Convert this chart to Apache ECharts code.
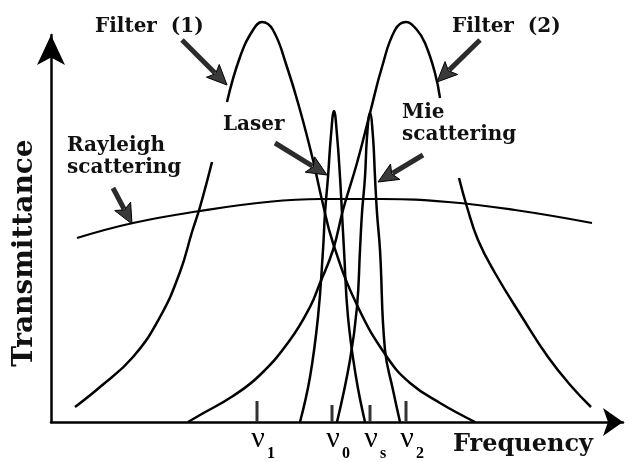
<!DOCTYPE html>
<html>
<head>
<meta charset="utf-8">
<script src="https://cdn.jsdelivr.net/npm/echarts@6/dist/echarts.min.js"></script>
<style>
html,body{margin:0;padding:0;background:#fff;}
#chart{width:635px;height:462px;}
</style>
</head>
<body>
<div id="chart"></div>
<script>
// Curves: [frequency, transmittance]
const filter1Upper = [[227,320],[240,365],[253,392],[262,400],[273,392],[287,355],[300,312],[313,262],[322,222],[333,179],[357,117],[387,65],[410,39],[440,19],[475,0]];
const filter1Lower = [[75,15],[100,35],[133,65],[160,105],[180,150],[192,190],[200,215],[212,260]];
const filter2Upper = [[188,0],[200,7],[233,26],[260,47],[290,82],[310,115],[320,139],[333,172],[343,212],[357,259],[370,309],[382,355],[395,392],[406,400],[417,392],[425,379],[435,349],[440,324]];
const filter2Lower = [[459,244],[467,215],[478,182],[495,149],[522,105],[548,65],[572,35],[591,15]];
const laser = [[300,0],[310,45],[318,105],[323,172],[325,209],[328,245],[331,287],[334,311],[337,287],[340,245],[342,209],[344,172],[348,105],[356,45],[365,0]];
const mie = [[337,0],[350,62],[357,115],[360,172],[362,209],[365,245],[367,285],[370,309],[373,285],[375,245],[377,209],[380,172],[385,72],[393,32],[400,0]];
const rayleigh = [[77,184],[133,199],[200,211],[267,220],[320,223],[382,223],[448,220],[515,212],[592,199]];

// Frequency markers
const tickFreqs = [257, 332, 370, 406];
const tickHeights = [21, 17, 17, 21];
const tickSubs = ['1', '0', 's', '2'];

// Annotation arrows: tail [x,y] -> tip [x,y]
const arrowTails = [[182,382],[275,279],[113,234],[480,382],[423,267]];
const arrowTips  = [[227,337],[327,247],[132,198],[437,340],[378,240]];

const chart = echarts.init(document.getElementById('chart'), null, {renderer: 'canvas'});

function curve(name, data, width) {
  return {
    name: name, type: 'line', data: data, showSymbol: false, symbol: 'none',
    smooth: 0.45, clip: false, silent: true,
    lineStyle: {color: '#000', width: width || 2.5}, z: 3
  };
}

const tickData = tickFreqs.map((f, i) => [f, tickHeights[i], i]);
const arrowData = arrowTails.map((t, i) => [t[0], t[1], arrowTips[i][0], arrowTips[i][1]]);

const option = {
  animation: false,
  backgroundColor: '#fff',
  grid: {left: 51, right: 12, top: 35, bottom: 40},
  xAxis: {
    type: 'value', min: 51, max: 623,
    axisLine: {show: true, onZero: false, symbol: ['none', 'arrow'], symbolSize: [21, 20], lineStyle: {color: '#000', width: 2.5}},
    axisTick: {show: false}, axisLabel: {show: false}, splitLine: {show: false}
  },
  yAxis: {
    type: 'value', min: 0, max: 387,
    axisLine: {show: true, onZero: false, symbol: ['none', 'arrow'], symbolSize: [21, 30], lineStyle: {color: '#000', width: 2.5}},
    axisTick: {show: false}, axisLabel: {show: false}, splitLine: {show: false}
  },
  series: [
    curve('Filter (1)', filter1Upper),
    curve('Filter (1) tail', filter1Lower),
    curve('Filter (2)', filter2Upper),
    curve('Filter (2) tail', filter2Lower),
    curve('Laser', laser),
    curve('Mie scattering', mie),
    curve('Rayleigh scattering', rayleigh, 2.2),
    {
      type: 'custom', name: 'ticks', data: tickData, silent: true, z: 4,
      renderItem: function (params, api) {
        const f = api.value(0), h = api.value(1), idx = api.value(2);
        const p0 = api.coord([f, 0]);
        const p1 = api.coord([f, h]);
        return {
          type: 'group',
          children: [
            {type: 'rect', shape: {x: p0[0] - 1.5, y: p1[1], width: 3, height: p0[1] - p1[1]}, style: {fill: '#333'}},
            {type: 'text', style: {text: 'ν', x: p0[0] + 1, y: p0[1] + 17, font: 'normal 30px "Liberation Serif"', align: 'center', verticalAlign: 'middle', fill: '#000'}},
            {type: 'text', style: {text: tickSubs[idx], x: p0[0] + 10, y: p0[1] + 32, font: 'bold 16px "Liberation Serif"', align: 'left', verticalAlign: 'middle', fill: '#000'}}
          ]
        };
      }
    },
    {
      type: 'custom', name: 'arrows', data: arrowData, silent: true, z: 5,
      renderItem: function (params, api) {
        const a = api.coord([api.value(0), api.value(1)]);
        const b = api.coord([api.value(2), api.value(3)]);
        const dx = b[0] - a[0], dy = b[1] - a[1];
        const len = Math.sqrt(dx * dx + dy * dy);
        const ux = dx / len, uy = dy / len;
        const nx = -uy, ny = ux;
        const L = 20, W = 9;
        const bx = b[0] - ux * L, by = b[1] - uy * L;
        return {
          type: 'group',
          children: [
            {type: 'line', shape: {x1: a[0], y1: a[1], x2: bx + ux * 3, y2: by + uy * 3}, style: {stroke: '#2b2b2b', lineWidth: 5}},
            {type: 'polygon', shape: {points: [[b[0], b[1]], [bx + nx * W, by + ny * W], [bx + ux * 4, by + uy * 4], [bx - nx * W, by - ny * W]]}, style: {fill: '#3a3a3a', stroke: '#000', lineWidth: 1}}
          ]
        };
      }
    }
  ],
  graphic: [
    {type: 'text', left: 95, top: 17, style: {text: 'Filter  (1)', font: 'bold 20px "DejaVu Serif"', fill: '#111'}},
    {type: 'text', left: 452, top: 17, style: {text: 'Filter  (2)', font: 'bold 20px "DejaVu Serif"', fill: '#111'}},
    {type: 'text', left: 223, top: 115, style: {text: 'Laser', font: 'bold 20px "DejaVu Serif"', fill: '#111'}},
    {type: 'text', left: 67, top: 135, style: {text: 'Rayleigh\nscattering', font: 'bold 20px "DejaVu Serif"', lineHeight: 22, fill: '#111'}},
    {type: 'text', left: 402, top: 102, style: {text: 'Mie\nscattering', font: 'bold 20px "DejaVu Serif"', lineHeight: 22, fill: '#111'}},
    {type: 'text', left: 453, top: 433, style: {text: 'Frequency', font: 'bold 24px "DejaVu Serif"', fill: '#111'}},
    {type: 'text', x: 25, y: 253, rotation: Math.PI / 2, style: {text: 'Transmittance', font: 'bold 28px "DejaVu Serif"', align: 'center', verticalAlign: 'middle', fill: '#111'}}
  ]
};
chart.setOption(option);
</script>
</body>
</html>
